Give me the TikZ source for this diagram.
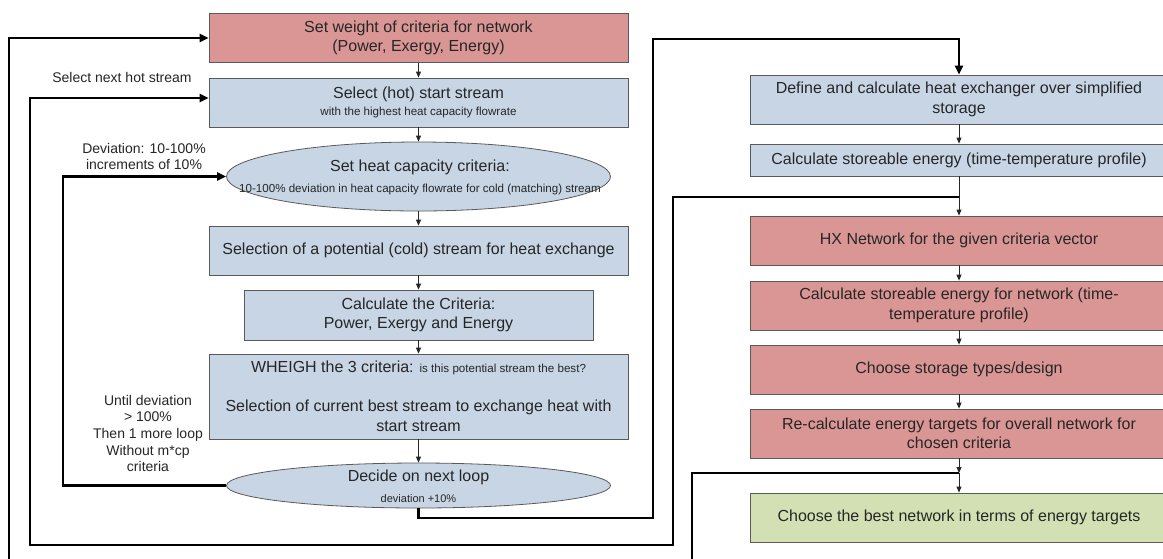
\documentclass[tikz,border=0pt]{standalone}
\usepackage{fontspec}
\setmainfont{Liberation Sans}
\usetikzlibrary{arrows.meta,shapes.geometric}
\definecolor{boxred}{HTML}{DA9694}
\definecolor{boxblue}{HTML}{C8D5E5}
\definecolor{boxgreen}{HTML}{D3E0B3}
\definecolor{edgegray}{HTML}{5A5A5A}
\newcommand{\bigf}{\fontsize{16}{19.5}\selectfont}
\newcommand{\smallf}{\fontsize{11.6}{14}\selectfont}
\newcommand{\labf}{\fontsize{14}{16.7}\selectfont}
\tikzset{
  box/.style={draw=edgegray, line width=0.8pt, minimum width=419pt, minimum height=49pt,
    inner sep=0pt, align=center, font=\bigf, text=black!85},
  redbox/.style={box, fill=boxred},
  bluebox/.style={box, fill=boxblue},
  greenbox/.style={box, fill=boxgreen},
  ell/.style={ellipse, draw=edgegray, line width=0.8pt, fill=boxblue, inner sep=0pt},
  txt/.style={align=center, font=\bigf, inner sep=0pt, text=black!85},
  lab/.style={align=center, font=\labf, inner sep=0pt, text=black!85},
  flow/.style={-{Triangle[length=6pt,width=5pt]}, line width=0.9pt, black!85},
  loopline/.style={-{Triangle[length=9pt,width=8pt]}, line width=2.5pt, line join=miter, black}
}
\begin{document}
\begin{tikzpicture}[x=1pt,y=-1pt]
\useasboundingbox (0,0) rectangle (1163,558);
\fill[white] (0,0) rectangle (1163,558);

% left column
\node[redbox] (w) at (418.5,38) {Set weight of criteria for network\\(Power, Exergy, Energy)};
\node[bluebox] (s) at (418.5,102.5) {Select (hot) start stream\\[-3pt]{\smallf with the highest heat capacity flowrate}};
\node[ell, minimum width=384pt, minimum height=69pt] (e1) at (418.5,176.5) {};
\node[txt] (e1t) at (420,177.5) {Set heat capacity criteria:\\[1pt]{\smallf 10-100\% deviation in heat capacity flowrate for cold (matching) stream}};
\node[bluebox] (p) at (418.5,250.5) {Selection of a potential (cold) stream for heat exchange};
\node[bluebox, minimum width=349pt, minimum height=50pt] (c) at (418.5,315) {Calculate the Criteria:\\Power, Exergy and Energy};
\node[bluebox, minimum height=85pt] (h) at (418.5,396.5) {WHEIGH the 3 criteria: {\smallf is this potential stream the best?}\\[19.5pt]Selection of current best stream to exchange heat with\\start stream};
\node[ell, minimum width=384pt, minimum height=45pt] (e2) at (418.5,485.5) {};
\node[txt] (e2t) at (418.5,486) {Decide on next loop\\[1pt]{\fontsize{11}{13}\selectfont deviation +10\%}};

% right column
\node[bluebox, minimum width=418pt] (d) at (959,99.5) {Define and calculate heat exchanger over simplified\\storage};
\node[bluebox, minimum width=418pt, minimum height=32pt] (cs) at (959,160) {Calculate storeable energy (time-temperature profile)};
\node[redbox, minimum width=418pt] (hx) at (959,240.5) {HX Network for the given criteria vector};
\node[redbox, minimum width=418pt] (cn) at (959,305.5) {Calculate storeable energy for network (time-\\temperature profile)};
\node[redbox, minimum width=418pt] (cst) at (959,369.5) {Choose storage types/design};
\node[redbox, minimum width=418pt] (rc) at (959,433.5) {Re-calculate energy targets for overall network for\\chosen criteria};
\node[greenbox, minimum width=418pt] (b) at (959,517.5) {Choose the best network in terms of energy targets};

\coordinate (j1) at (959,197);
\coordinate (j2) at (959,473);

% labels
\node[lab] (l1) at (122,77) {Select next hot stream};
\node[lab] (l2) at (144,156.5) {Deviation: 10-100\%\\increments of 10\%};
\node[lab] (l3) at (148,433.5) {Until deviation\\> 100\%\\Then 1 more loop\\Without m*cp\\criteria};

% flow arrows
\draw[flow] (w) -- (s);
\draw[flow] (s) -- (e1);
\draw[flow] (e1) -- (p);
\draw[flow] (p) -- (c);
\draw[flow] (c) -- (h);
\draw[flow] (h) -- (e2);
\draw[flow] (d) -- (cs);
\draw[flow] (cs) -- (hx);
\draw[flow] (hx) -- (cn);
\draw[flow] (cn) -- (cst);
\draw[flow] (cst) -- (rc);
\draw[flow] (rc.south) -- (j2);
\draw[flow] (j2) -- (b.north);

% loop connectors
\draw[loopline] (e2.west) -| (63,176.5) -- (e1.west);
\draw[loopline] (j1) -- (673,197) -- (673,545) -- (30,545) -- (30,98) -- (s.west |- 0,98);
\draw[loopline] (j2) -- (692,473) -- (692,575) -- (9,575) -- (9,38) -- (w.west);
\draw[loopline] (e2.south) -- (418.5,518) -- (653,518) -- (653,39) -- (959,39) -- (d.north);
\end{tikzpicture}
\end{document}
